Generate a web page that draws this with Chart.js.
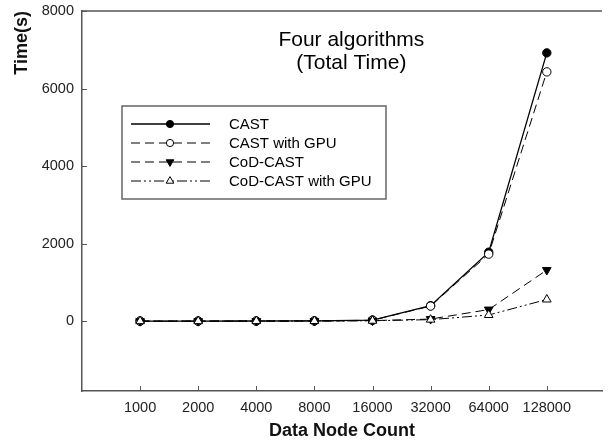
<!DOCTYPE html>
<html>
<head>
<meta charset="utf-8">
<script src="https://cdn.jsdelivr.net/npm/chart.js@4"></script>
<style>
html,body{margin:0;padding:0;background:#fff;}
#wrap{width:608px;height:442px;}
</style>
</head>
<body>
<div id="wrap"><canvas id="c" width="608" height="442"></canvas></div>
<script>
const categories = ["1000","2000","4000","8000","16000","32000","64000","128000"];
const cast       = [2, 3, 5, 8, 30, 400, 1780, 6920];
const castGpu    = [1, 2, 4, 7, 25, 390, 1730, 6430];
const codCast    = [1, 2, 3, 5, 15, 55, 300, 1320];
const codCastGpu = [1, 2, 3, 5, 12, 40, 160, 560];
const yTicks = [0, 2000, 4000, 6000, 8000];
const seriesNames = ["CAST", "CAST with GPU", "CoD-CAST", "CoD-CAST with GPU"];
const titleLines = ["Four algorithms", "(Total Time)"];

const FONT = "'Liberation Sans', Arial, sans-serif";
const AXIS = '#555';

function pts(arr){ return arr.map((v,i)=>({x:i+1,y:v})); }

const datasets = [
  {label:seriesNames[0], data:pts(cast), order:4, borderColor:'#000', backgroundColor:'#000', borderWidth:1.3,
   pointStyle:'circle', pointRadius:4.2, pointBackgroundColor:'#000', pointBorderColor:'#000', pointBorderWidth:1, borderDash:[]},
  {label:seriesNames[1], data:pts(castGpu), order:3, borderColor:'#000', backgroundColor:'#fff', borderWidth:1,
   pointStyle:'circle', pointRadius:4.2, pointBackgroundColor:'#fff', pointBorderColor:'#000', pointBorderWidth:1, borderDash:[9,5]},
  {label:seriesNames[2], data:pts(codCast), order:2, borderColor:'#000', backgroundColor:'#000', borderWidth:1,
   pointStyle:'triangle', pointRotation:180, pointRadius:5, pointBackgroundColor:'#000', pointBorderColor:'#000', pointBorderWidth:1, borderDash:[9,5]},
  {label:seriesNames[3], data:pts(codCastGpu), order:1, borderColor:'#000', backgroundColor:'#fff', borderWidth:1,
   pointStyle:'triangle', pointRotation:0, pointRadius:5, pointBackgroundColor:'#fff', pointBorderColor:'#000', pointBorderWidth:1, borderDash:[10,3,2,3,2,3]}
];

const extras = {
  id:'extras',
  beforeDatasetsDraw(chart){
    const {ctx, chartArea:a, scales:{x,y}} = chart;
    ctx.save();
    ctx.strokeStyle = AXIS; ctx.lineWidth = 1.5;
    ctx.beginPath(); ctx.moveTo(a.left, a.top); ctx.lineTo(a.right, a.top); ctx.stroke();
    ctx.lineWidth = 1;
    yTicks.forEach(v=>{ const py=Math.round(y.getPixelForValue(v))+0.5; ctx.beginPath(); ctx.moveTo(a.left,py); ctx.lineTo(a.left+5,py); ctx.stroke(); });
    categories.forEach((c,i)=>{ const px=Math.round(x.getPixelForValue(i+1))+0.5; ctx.beginPath(); ctx.moveTo(px,a.bottom); ctx.lineTo(px,a.bottom-5); ctx.stroke(); });
    ctx.fillStyle = '#000';
    ctx.font = '21px ' + FONT;
    ctx.textAlign = 'center'; ctx.textBaseline = 'middle';
    const tx = a.left + (a.right-a.left)*0.518;
    ctx.fillText(titleLines[0], tx, a.top + 29);
    ctx.fillText(titleLines[1], tx, a.top + 52);
    ctx.restore();
  },
  afterDatasetsDraw(chart){
    const {ctx, chartArea:a} = chart;
    ctx.save();
    const bx = a.left + 40, by = a.top + 95, bw = 264, bh = 93;
    ctx.fillStyle = '#fff'; ctx.fillRect(bx, by, bw, bh);
    ctx.strokeStyle = '#666'; ctx.lineWidth = 1.5; ctx.strokeRect(bx, by, bw, bh);
    chart.data.datasets.forEach((ds,i)=>{
      const ry = by + 18 + i*19;
      ctx.strokeStyle = '#000'; ctx.lineWidth = ds.borderWidth;
      ctx.setLineDash(ds.borderDash);
      ctx.beginPath(); ctx.moveTo(bx+9, ry); ctx.lineTo(bx+88, ry); ctx.stroke();
      ctx.setLineDash([]);
      ctx.fillStyle = ds.pointBackgroundColor; ctx.strokeStyle = ds.pointBorderColor; ctx.lineWidth = 1;
      Chart.helpers.drawPoint(ctx, {pointStyle:ds.pointStyle, radius:ds.pointRadius-0.6, rotation:ds.pointRotation||0, borderWidth:1}, bx+48, ry);
      ctx.fillStyle = '#000'; ctx.font = '15px ' + FONT; ctx.textAlign='left'; ctx.textBaseline='middle';
      ctx.fillText(ds.label, bx+107, ry+1);
    });
    ctx.restore();
  }
};

new Chart(document.getElementById('c'), {
  type:'line',
  data:{datasets},
  options:{
    responsive:false, animation:false, devicePixelRatio:1,
    layout:{padding:{top:11, right:0, left:0, bottom:0}},
    plugins:{legend:{display:false}, tooltip:{enabled:false}, title:{display:false}},
    elements:{line:{tension:0, fill:false}},
    scales:{
      x:{type:'linear', min:0, max:8.95,
        afterBuildTicks(s){ s.ticks = categories.map((c,i)=>({value:i+1})); },
        ticks:{callback:(v)=>categories[v-1] ?? '', font:{family:FONT, size:14.5}, color:'#222', padding:8, maxRotation:0, autoSkip:false},
        grid:{display:false, drawTicks:false},
        border:{display:true, color:AXIS, width:1.5},
        title:{display:true, text:'Data Node Count', font:{family:FONT, size:18, weight:'bold'}, color:'#111', padding:{top:2,bottom:0}},
        afterFit(s){ s.height = 51; s.paddingLeft = 0; s.paddingRight = 0; }
      },
      y:{type:'linear', min:-1800, max:8000,
        afterBuildTicks(s){ s.ticks = yTicks.map(v=>({value:v})); },
        ticks:{callback:(v)=>String(v), font:{family:FONT, size:14.5}, color:'#222', padding:8},
        grid:{display:false, drawTicks:false},
        border:{display:true, color:AXIS, width:1.5},
        title:{display:true, text:'Time(s)', align:'end', font:{family:FONT, size:18, weight:'bold'}, color:'#111', padding:{top:11,bottom:0}},
        afterFit(s){ s.width = 82; s.paddingTop = 0; s.paddingBottom = 0; }
      }
    }
  },
  plugins:[extras]
});
</script>
</body>
</html>
